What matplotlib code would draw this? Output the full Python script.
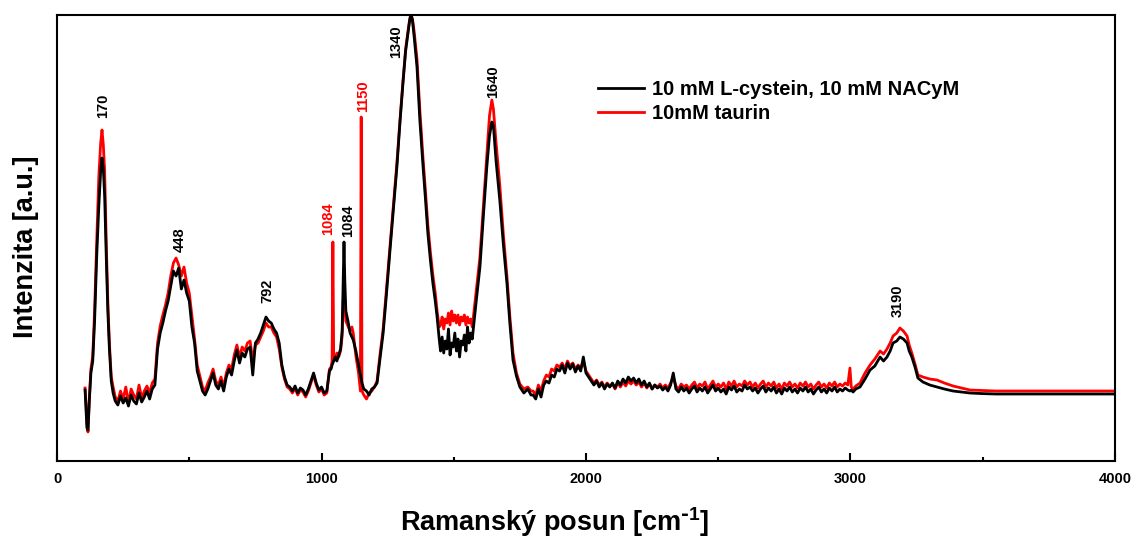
import numpy as np
import matplotlib
matplotlib.use('Agg')
import matplotlib.pyplot as plt
from matplotlib.ticker import MultipleLocator

# Raman spectra (intensity in arbitrary units)
wn_a = [106, 110, 113, 117, 122, 128, 135, 142, 150, 158, 165, 170, 175, 180, 186, 192, 198, 205, 212]
cys_a = [71, 50, 33, 31, 60, 88, 100, 140, 205, 255, 290, 303, 292, 265, 205, 150, 112, 80, 68]
tau_a = [73, 55, 38, 29, 62, 92, 105, 150, 220, 285, 318, 331, 316, 290, 220, 160, 118, 84, 74]

wn_b = [220, 230, 240, 250, 260, 270, 280, 290, 300, 310, 320, 330, 340, 350, 360, 370]
cys_b = [60, 56, 65, 58, 63, 55, 66, 60, 57, 68, 59, 64, 70, 62, 72, 76]
tau_b = [64, 60, 70, 62, 74, 58, 72, 66, 62, 76, 63, 70, 75, 68, 78, 82]

wn_c = [380, 390, 400, 410, 420, 430, 440, 450, 460, 470, 480, 490, 500, 510, 520, 530,
        540, 550, 560, 570, 580, 590, 600]
cys_c = [112, 128, 138, 150, 160, 175, 190, 185, 193, 172, 181, 168, 160, 134, 118, 90,
         80, 70, 66, 72, 80, 88, 76]
tau_c = [118, 135, 146, 156, 168, 185, 198, 203, 196, 185, 194, 178, 168, 145, 122, 96,
         85, 74, 70, 78, 84, 92, 80]

wn_d = [610, 620, 630, 640, 650, 660, 670, 680, 690, 700, 710, 720, 730, 740, 750, 760,
        770, 780, 790, 800, 810, 820, 830, 840, 850, 860, 870, 880, 890, 900, 910, 920,
        930, 940, 950, 960, 970, 980, 990, 1000, 1010, 1020, 1030]
cys_d = [72, 80, 70, 84, 92, 86, 100, 111, 98, 108, 104, 112, 114, 86, 118, 122,
         128, 136, 144, 140, 138, 132, 128, 118, 96, 84, 76, 74, 70, 75, 68, 73,
         71, 66, 72, 80, 88, 78, 71, 74, 68, 70, 90]
tau_d = [76, 84, 74, 88, 96, 92, 106, 116, 104, 114, 110, 118, 120, 100, 116, 118,
         124, 130, 138, 134, 134, 128, 124, 112, 94, 82, 74, 72, 68, 73, 66, 71,
         69, 64, 70, 78, 86, 76, 69, 72, 66, 68, 92]

wn_e = [1036, 1040, 1043, 1046, 1052, 1058, 1065, 1072, 1078, 1082, 1085, 1088, 1092, 1100,
        1108, 1115, 1120, 1130, 1140, 1147, 1150, 1153, 1160, 1170, 1180, 1190, 1200]
cys_e = [92, 96, 98, 100, 104, 100, 106, 112, 130, 181, 219, 181, 150, 140,
         128, 124, 121, 110, 96, 86, 82, 78, 72, 70, 66, 72, 74]
tau_e = [94, 100, 219, 104, 102, 108, 104, 110, 125, 160, 175, 160, 140, 135,
         130, 134, 128, 105, 88, 70, 344, 70, 66, 62, 68, 70, 74]

wn_f = [1210, 1220, 1233, 1245, 1259, 1272, 1285, 1297, 1308, 1318, 1327, 1333, 1338, 1344,
        1350, 1361, 1372, 1384, 1393, 1402, 1412, 1421, 1430, 1437,
        1445, 1450, 1456, 1462, 1468, 1474, 1480, 1486, 1492, 1498, 1504, 1510, 1516, 1522,
        1528, 1534, 1540, 1546, 1552, 1558, 1564, 1570,
        1585, 1599, 1612, 1625, 1635, 1644, 1650, 1660, 1674, 1688, 1701, 1712, 1724, 1737,
        1750, 1765, 1780, 1792]
cys_f = [78, 100, 128, 165, 211, 252, 294, 340, 378, 410, 428, 440, 448, 440,
         425, 394, 340, 294, 262, 228, 200, 178, 160, 144,
         122, 110, 124, 108, 120, 112, 132, 106, 118, 114, 128, 110, 122, 104,
         120, 116, 126, 110, 134, 118, 128, 122,
         160, 194, 245, 294, 325, 339, 335, 300, 261, 215, 178, 138, 101, 85,
         74, 68, 72, 66]
tau_f = [80, 104, 132, 170, 215, 256, 298, 342, 380, 412, 430, 441, 446, 442,
         430, 402, 350, 302, 270, 236, 208, 186, 168, 150,
         134, 136, 144, 132, 142, 138, 148, 136, 150, 140, 146, 138, 146, 136,
         144, 140, 146, 136, 144, 138, 142, 134,
         170, 204, 255, 306, 345, 361, 352, 318, 276, 225, 185, 145, 108, 88,
         77, 72, 74, 70]

wn_g = [1800, 1810, 1820, 1830, 1840, 1850, 1860, 1870, 1880, 1890,
        1900, 1910, 1920, 1930, 1940, 1950, 1960, 1970, 1980, 1990,
        2000, 2010, 2020, 2030, 2040, 2050, 2060, 2070, 2080, 2090,
        2100, 2110, 2120, 2130, 2140, 2150, 2160, 2170, 2180, 2190,
        2200, 2210, 2220, 2230, 2240, 2250, 2260, 2270, 2280, 2290,
        2300, 2310, 2320, 2330, 2340, 2350, 2360, 2370, 2380, 2390,
        2400, 2410, 2420, 2430, 2440, 2450, 2460, 2470, 2480, 2490,
        2500, 2510, 2520, 2530, 2540, 2550, 2560, 2570, 2580, 2590,
        2600, 2610, 2620, 2630, 2640, 2650, 2660, 2670, 2680, 2690,
        2700, 2710, 2720, 2730, 2740, 2750, 2760, 2770, 2780, 2790,
        2800, 2810, 2820, 2830, 2840, 2850, 2860, 2870, 2880, 2890,
        2900, 2910, 2920, 2930, 2940, 2950, 2960, 2970, 2980, 2990]
cys_g = [66, 62, 72, 64, 76, 80, 78, 86, 84, 92,
         90, 96, 88, 98, 92, 97, 89, 95, 90, 104,
         88, 84, 80, 76, 80, 74, 78, 72, 77, 74,
         78, 73, 80, 76, 82, 78, 84, 80, 83, 78,
         82, 76, 80, 74, 78, 72, 76, 73, 75, 71,
         74, 70, 76, 88, 72, 69, 74, 70, 73, 68,
         72, 75, 69, 73, 70, 74, 68, 72, 76, 70,
         73, 69, 72, 67, 74, 71, 75, 69, 72, 70,
         76, 72, 74, 70, 73, 68, 72, 75, 69, 73,
         70, 74, 68, 72, 67, 73, 70, 74, 69, 72,
         68, 73, 70, 74, 69, 72, 67, 71, 74, 69,
         72, 68, 73, 70, 74, 69, 72, 70, 73, 71]
tau_g = [70, 66, 76, 70, 80, 86, 84, 92, 90, 96,
         94, 98, 92, 100, 95, 98, 92, 96, 93, 100,
         90, 86, 82, 78, 81, 76, 79, 74, 78, 75,
         77, 72, 78, 74, 79, 75, 80, 77, 80, 76,
         79, 74, 78, 73, 77, 72, 76, 74, 77, 73,
         76, 73, 78, 84, 75, 72, 77, 74, 76, 72,
         76, 79, 73, 77, 75, 79, 72, 76, 80, 74,
         77, 74, 78, 72, 79, 75, 80, 74, 77, 75,
         80, 76, 79, 74, 78, 73, 77, 80, 74, 78,
         75, 79, 73, 77, 72, 78, 75, 79, 74, 77,
         73, 78, 75, 79, 74, 77, 72, 76, 79, 74,
         77, 73, 78, 75, 79, 74, 77, 75, 78, 76]

wn_h = [2998, 3003, 3010, 3020, 3036, 3055, 3074, 3092, 3112, 3125, 3138, 3150, 3161, 3175,
        3187, 3200, 3214, 3222, 3232, 3244, 3255, 3274, 3300, 3327, 3355, 3388, 3420, 3452,
        3500, 3550, 3700, 4000]
cys_h = [70, 71, 69, 72, 74, 82, 91, 95, 104, 100, 104, 110, 118, 120,
         124, 122, 118, 110, 104, 94, 83, 79, 76, 74, 72, 70, 69, 68,
         67.4, 67, 67, 67]
tau_h = [93, 74, 72, 75, 78, 88, 96, 102, 110, 107, 112, 118, 125, 128,
         133, 130, 125, 116, 108, 97, 86, 84, 82, 81, 78, 75, 73, 71,
         70.5, 70, 70, 70]

# peak labels: text, x, y (bottom of label), colour
peak_txt = ['170', '448', '792', '1084', '1084', '1150', '1340', '1640', '3190']
peak_x = [174, 465, 794, 1025, 1100, 1157, 1282, 1648, 3180]
peak_y = [343, 209, 158, 226, 224, 349, 403, 363, 144]
peak_col = ['k', 'k', 'k', 'r', 'k', 'r', 'k', 'k', 'k']

wn = np.array(wn_a + wn_b + wn_c + wn_d + wn_e + wn_f + wn_g + wn_h)
cys = np.array(cys_a + cys_b + cys_c + cys_d + cys_e + cys_f + cys_g + cys_h)
tau = np.array(tau_a + tau_b + tau_c + tau_d + tau_e + tau_f + tau_g + tau_h)

plt.rcParams['font.family'] = ['Liberation Sans', 'DejaVu Sans']
plt.rcParams['font.weight'] = 'bold'

fig = plt.figure(figsize=(11.34, 5.45), dpi=100)
ax = fig.add_axes([0.0503, 0.1541, 0.9329, 0.8184])

ax.plot(wn, cys, color='#000000', lw=2.0, zorder=3, label='10 mM L-cystein, 10 mM NACyM')
ax.plot(wn, tau, color='#ff0000', lw=2.0, zorder=2, label='10mM taurin')

for t, x, y, c in zip(peak_txt, peak_x, peak_y, peak_col):
    ax.text(x, y, t, rotation=90, ha='center', va='bottom', color=c,
            fontsize=10.5, fontweight='bold')

ax.set_xlim(0, 4000)
ax.set_ylim(0, 446)
ax.xaxis.set_major_locator(MultipleLocator(1000))
ax.xaxis.set_minor_locator(MultipleLocator(500))
ax.set_yticks([])
ax.tick_params(axis='x', which='major', direction='in', length=6, width=1.5,
               labelsize=10.5, pad=8)
ax.tick_params(axis='x', which='minor', direction='in', length=3, width=1.5)
for lab in ax.get_xticklabels():
    lab.set_fontweight('bold')
for sp in ax.spines.values():
    sp.set_linewidth(1.5)

ax.set_xlabel(r'Ramanský posun [cm$^{\mathregular{\text{-}1}}$]', fontsize=19.5,
              fontweight='bold', labelpad=14)
ax.xaxis.label.set_x(0.47)
ax.set_ylabel('Intenzita [a.u.]', fontsize=19.5, fontweight='bold', labelpad=13)
ax.yaxis.label.set_y(0.48)

ax.legend(loc='center left', bbox_to_anchor=(0.511, 0.805), frameon=False,
          prop={'weight': 'bold', 'size': 14.5}, handlelength=2.3,
          handletextpad=0.4, labelspacing=0.25, borderpad=0, borderaxespad=0)

fig.savefig('out.png', dpi=100)
